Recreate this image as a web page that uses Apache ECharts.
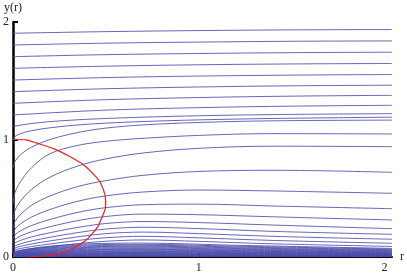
<!DOCTYPE html>
<html><head><meta charset="utf-8">
<script src="https://cdn.jsdelivr.net/npm/echarts@6/dist/echarts.min.js"></script>
<style>html,body{margin:0;padding:0;background:#fff}#c{width:407px;height:276px}</style>
</head><body><div id="c"></div>
<script>
// x samples for the upper (y0 >= 1.2) curves
var xTop = [0, 0.5, 1.0, 1.5, 2.04];
var topCurves = [
  [1.904, 1.918, 1.927, 1.933, 1.936],
  [1.804, 1.820, 1.829, 1.836, 1.839],
  [1.705, 1.722, 1.732, 1.739, 1.743],
  [1.606, 1.624, 1.636, 1.643, 1.647],
  [1.506, 1.527, 1.540, 1.548, 1.553],
  [1.407, 1.432, 1.447, 1.457, 1.462],
  [1.308, 1.339, 1.357, 1.369, 1.376],
  [1.209, 1.250, 1.271, 1.284, 1.291]
];
// x samples for the middle / lower curves
var xLow = [0, 0.01, 0.04, 0.1, 0.2, 0.35, 0.5, 0.7, 1.0, 1.4, 2.04];
var lowCurves = [
  [1.109, 1.113, 1.122, 1.136, 1.152, 1.168, 1.179, 1.190, 1.202, 1.212, 1.220],
  [1.000, 1.025, 1.050, 1.075, 1.100, 1.124, 1.139, 1.153, 1.167, 1.179, 1.190],
  [0.755, 0.812, 0.870, 0.935, 1.000, 1.060, 1.097, 1.124, 1.145, 1.159, 1.165],
  [0.450, 0.545, 0.640, 0.760, 0.880, 0.950, 0.985, 1.010, 1.035, 1.050, 1.047],
  [0.315, 0.395, 0.475, 0.575, 0.680, 0.775, 0.835, 0.885, 0.925, 0.943, 0.939],
  [0.240, 0.300, 0.360, 0.440, 0.520, 0.600, 0.650, 0.695, 0.728, 0.738, 0.721],
  [0.190, 0.236, 0.282, 0.340, 0.405, 0.475, 0.520, 0.553, 0.570, 0.562, 0.542],
  [0.150, 0.186, 0.222, 0.268, 0.320, 0.380, 0.420, 0.445, 0.450, 0.434, 0.411],
  [0.120, 0.149, 0.178, 0.215, 0.258, 0.310, 0.345, 0.365, 0.360, 0.342, 0.315],
  [0.095, 0.118, 0.141, 0.171, 0.207, 0.252, 0.285, 0.302, 0.293, 0.272, 0.241],
  [0.075, 0.093, 0.112, 0.137, 0.168, 0.208, 0.238, 0.253, 0.242, 0.218, 0.193],
  [0.060, 0.075, 0.090, 0.111, 0.137, 0.172, 0.199, 0.212, 0.199, 0.176, 0.151],
  [0.048, 0.060, 0.072, 0.089, 0.111, 0.141, 0.164, 0.176, 0.163, 0.141, 0.117],
  [0.038, 0.047, 0.057, 0.071, 0.089, 0.114, 0.134, 0.145, 0.133, 0.112, 0.090]
];
// x samples for the dense band near y = 0
var xBand = [0, 0.02, 0.08, 0.2, 0.4, 0.7, 1.2, 2.04];
var bandCurves = [
  [0.030, 0.047, 0.068, 0.092, 0.112, 0.118, 0.100, 0.073],
  [0.027, 0.043, 0.063, 0.084, 0.103, 0.108, 0.092, 0.067],
  [0.025, 0.040, 0.058, 0.078, 0.095, 0.100, 0.085, 0.062],
  [0.023, 0.037, 0.053, 0.072, 0.087, 0.092, 0.078, 0.057],
  [0.021, 0.034, 0.049, 0.066, 0.081, 0.085, 0.072, 0.053],
  [0.020, 0.031, 0.045, 0.061, 0.074, 0.078, 0.066, 0.048],
  [0.018, 0.028, 0.041, 0.055, 0.067, 0.071, 0.060, 0.044],
  [0.016, 0.026, 0.038, 0.051, 0.062, 0.065, 0.055, 0.040],
  [0.015, 0.024, 0.034, 0.046, 0.056, 0.059, 0.050, 0.037],
  [0.013, 0.021, 0.031, 0.041, 0.050, 0.053, 0.045, 0.033],
  [0.012, 0.019, 0.028, 0.037, 0.046, 0.048, 0.041, 0.030],
  [0.011, 0.017, 0.025, 0.034, 0.041, 0.043, 0.037, 0.027],
  [0.010, 0.015, 0.022, 0.030, 0.036, 0.038, 0.032, 0.024],
  [0.009, 0.014, 0.020, 0.027, 0.032, 0.034, 0.029, 0.021],
  [0.008, 0.012, 0.017, 0.023, 0.029, 0.030, 0.026, 0.019],
  [0.007, 0.010, 0.015, 0.020, 0.025, 0.026, 0.022, 0.016],
  [0.006, 0.009, 0.013, 0.017, 0.021, 0.022, 0.019, 0.014],
  [0.005, 0.007, 0.010, 0.014, 0.017, 0.018, 0.015, 0.011],
  [0.004, 0.006, 0.009, 0.012, 0.014, 0.015, 0.013, 0.009],
  [0.003, 0.005, 0.007, 0.009, 0.011, 0.012, 0.010, 0.007],
  [0.002, 0.004, 0.005, 0.007, 0.009, 0.009, 0.008, 0.006],
  [0.002, 0.002, 0.003, 0.005, 0.006, 0.006, 0.005, 0.004],
  [0.001, 0.001, 0.002, 0.002, 0.003, 0.003, 0.003, 0.002]
];
// red curve
var redX = [0, 0.018, 0.125, 0.303, 0.428, 0.490, 0.499, 0.481, 0.428, 0.339, 0.214, 0.080];
var redY = [1.0, 1.0, 0.971, 0.857, 0.714, 0.557, 0.471, 0.343, 0.201, 0.088, 0.017, 0.0];
var xTicks = [0, 1, 2];
var yTicks = [0, 1, 2];

var FONT = 'Liberation Serif';
var BLUE = 'rgba(75,75,170,0.85)';
function zip(xs, ys) { return xs.map(function (x, i) { return [x, ys[i]]; }); }
var series = [];
function addSet(xs, set) {
  set.forEach(function (ys) {
    series.push({
      type: 'line', data: zip(xs, ys), showSymbol: false, silent: true,
      smooth: 0.35,
      lineStyle: { color: BLUE, width: 1 }
    });
  });
}
addSet(xTop, topCurves);
addSet(xLow, lowCurves);
addSet(xBand, bandCurves);
series.push({
  type: 'line', data: zip(redX, redY), showSymbol: false, silent: true,
  smooth: 0.5, lineStyle: { color: '#e82020', width: 1.2 }, z: 5
});

var chart = echarts.init(document.getElementById('c'), null, { renderer: 'canvas' });
chart.setOption({
  animation: false,
  grid: { left: 10, right: 15, top: 22, bottom: 19, containLabel: false },
  xAxis: {
    type: 'value', min: 0, max: 2.04, interval: 1,
    name: 'r', nameLocation: 'end', nameGap: 8,
    nameTextStyle: { fontFamily: FONT, fontSize: 12, color: '#222' },
    axisLine: { onZero: false, lineStyle: { color: '#000', width: 2 } },
    axisTick: { inside: true, length: 4, customValues: xTicks, lineStyle: { color: '#000', width: 2 } },
    axisLabel: { customValues: xTicks, margin: 5, fontFamily: FONT, fontSize: 12, color: '#222' },
    splitLine: { show: false }
  },
  yAxis: {
    type: 'value', min: 0, max: 2, interval: 1,
    name: 'y(r)', nameLocation: 'end', nameGap: 8,
    nameTextStyle: { fontFamily: FONT, fontSize: 12, color: '#222', align: 'center' },
    axisLine: { onZero: false, lineStyle: { color: '#000', width: 2.5 } },
    axisTick: { inside: true, length: 5, customValues: yTicks, lineStyle: { color: '#000', width: 2 } },
    axisLabel: { customValues: yTicks, margin: 4, fontFamily: FONT, fontSize: 12, color: '#222' },
    splitLine: { show: false }
  },
  series: series
});
</script></body></html>
